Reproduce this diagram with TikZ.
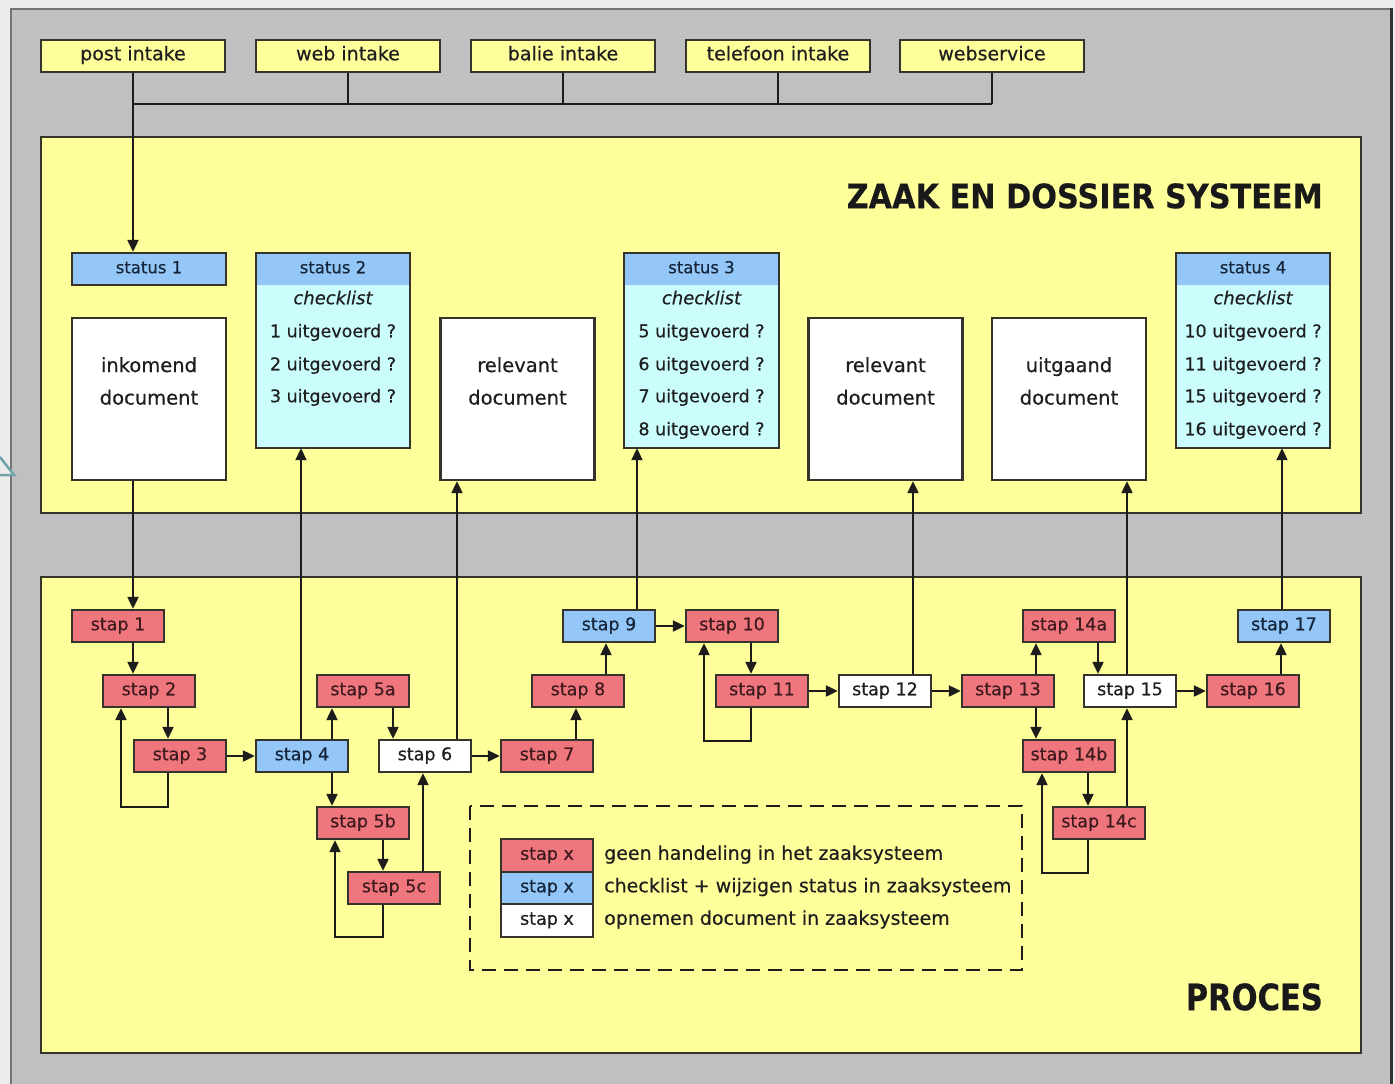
\documentclass[tikz,border=0pt]{standalone}
\usepackage{fontspec}
\setmainfont{DejaVu Sans}[FakeBold=0.4]
\usetikzlibrary{arrows.meta}

\definecolor{outerbg}{HTML}{ECECEC}
\definecolor{panelgray}{HTML}{C0C0C0}
\definecolor{zone}{HTML}{FEFE9A}
\definecolor{stapred}{HTML}{EF767C}
\definecolor{stapblue}{HTML}{94C7F7}
\definecolor{listcyan}{HTML}{CBFDFD}
\definecolor{edge}{HTML}{34342C}
\definecolor{wire}{HTML}{1C1C1C}
\definecolor{ink}{HTML}{1E1E1E}
\definecolor{inkred}{HTML}{3D1A1E}
\definecolor{inkblue}{HTML}{14243A}
\definecolor{tealmark}{HTML}{6FA3A8}

\begin{document}
\begin{tikzpicture}[x=1pt,y=-1pt,
  box/.style={draw=edge, line width=2.3pt, inner sep=0pt, text=ink,
    text height=12pt, text depth=3.5pt},
  intake/.style={box, fill=zone, minimum width=184pt, minimum height=32pt,
    font=\fontsize{19}{22}\selectfont},
  stapbox/.style={box, minimum width=92pt, minimum height=32pt,
    font=\fontsize{17.5}{20}\selectfont},
  rstap/.style={stapbox, fill=stapred, text=inkred},
  bstap/.style={stapbox, fill=stapblue, text=inkblue},
  wstap/.style={stapbox, fill=white},
  hdr/.style={inner sep=0pt, fill=stapblue, text=inkblue, minimum width=154pt,
    minimum height=32pt, text height=12pt, text depth=3.5pt,
    font=\fontsize{16.5}{20}\selectfont},
  listbody/.style={inner sep=0pt, fill=listcyan, minimum width=154pt},
  docbox/.style={box, fill=white, minimum width=154pt, minimum height=162pt},
  doctext/.style={inner sep=0pt, align=center, text=ink,
    font=\fontsize{19.5}{32.5}\selectfont},
  item/.style={inner sep=0pt, text=ink, text height=12pt, text depth=3.5pt,
    font=\fontsize{17.5}{20}\selectfont},
  legtext/.style={inner sep=0pt, anchor=west, text=ink, text height=12pt,
    text depth=3.5pt, font=\fontsize{19}{20}\selectfont},
  frame/.style={draw=edge, line width=2.3pt},
  conn/.style={draw=wire, line width=2pt},
  arr/.style={conn, -{Triangle[length=12pt,width=11pt]}},
]
\useasboundingbox (0,0) rectangle (1395,1084);

% backdrop and grey sheet
\fill[outerbg] (0,0) rectangle (1395,1084);
\fill[panelgray] (10,8) rectangle (1391,1090);
\draw[draw=black!55, line width=2pt] (11,1090) -- (11,9) -- (1391,9);
\draw[draw=black!80, line width=3pt] (1391,8) -- (1391,1090);
\draw[tealmark, line width=2.5pt, fill=outerbg] (0,457) -- (14,475) -- (0,475);

% the two zones
\filldraw[frame, fill=zone] (41,137) rectangle (1361,513);
\filldraw[frame, fill=zone] (41,577) rectangle (1361,1053);
\node[anchor=north east, inner sep=0pt, text=black!90] (zdstitle) at (1323,183)
  {\resizebox{476pt}{25pt}{\bfseries ZAAK EN DOSSIER SYSTEEM}};
\node[anchor=north east, inner sep=0pt, text=black!90] (procestitle) at (1323,983)
  {\resizebox{137pt}{27pt}{\bfseries PROCES}};

% intake channels
\node[intake] (post) at (133,56) {post intake};
\node[intake] (web)  at (348,56) {web intake};
\node[intake] (balie) at (563,56) {balie intake};
\node[intake] (tel)  at (778,56) {telefoon intake};
\node[intake] (wsvc) at (992,56) {webservice};
\coordinate (bus) at (0,104);
\draw[conn] (post.south |- bus) -- (wsvc.south |- bus);
\foreach \n in {web,balie,tel,wsvc} \draw[conn] (\n.south) -- (\n.south |- bus);

% statuses
\node[box, fill=stapblue, text=inkblue, minimum width=154pt, minimum height=32pt,
  font=\fontsize{16.5}{20}\selectfont] (st1) at (149,269) {status 1};
\draw[arr] (post.south) -- (post.south |- st1.north);

\foreach \id/\cx/\lbl/\a/\b/\c in {
    st2/333/status 2/1/2/3,
    st3/701.5/status 3/5/6/7,
    st4/1253/status 4/10/11/15} {
  \node[hdr] (\id h) at (\cx,269) {\lbl};
  \node[listbody, minimum height=163pt] (\id) at (\cx,366.5) {};
  \draw[frame] (\id h.north west) rectangle (\id.south east);
  \node[item] (\id c) at (\cx,300) {\itshape\fontsize{18}{20}\selectfont checklist};
  \node[item] (\id 1) at (\cx,333) {\a\ uitgevoerd ?};
  \node[item] (\id 2) at (\cx,366) {\b\ uitgevoerd ?};
  \node[item] (\id 3) at (\cx,398) {\c\ uitgevoerd ?};
}
\node[item] (st34) at (701.5,431) {8 uitgevoerd ?};
\node[item] (st44) at (1253,431) {16 uitgevoerd ?};

% documents
\node[docbox] (doc1) at (149,399) {};
\node[docbox] (doc2) at (517.5,399) {};
\node[docbox] (doc3) at (885.5,399) {};
\node[docbox] (doc4) at (1069,399) {};
\node[doctext] (doc1t) at ([yshift=18pt]doc1.center) {inkomend\\document};
\node[doctext] (doc2t) at ([yshift=18pt]doc2.center) {relevant\\document};
\node[doctext] (doc3t) at ([yshift=18pt]doc3.center) {relevant\\document};
\node[doctext] (doc4t) at ([yshift=18pt]doc4.center) {uitgaand\\document};

% process steps
\node[rstap] (s1)   at (118,626)  {stap 1};
\node[rstap] (s2)   at (149,691)  {stap 2};
\node[rstap] (s3)   at (180,756)  {stap 3};
\node[bstap] (s4)   at (302,756)  {stap 4};
\node[rstap] (s5a)  at (363,691)  {stap 5a};
\node[rstap] (s5b)  at (363,823)  {stap 5b};
\node[rstap] (s5c)  at (394,888)  {stap 5c};
\node[wstap] (s6)   at (425,756)  {stap 6};
\node[rstap] (s7)   at (547,756)  {stap 7};
\node[rstap] (s8)   at (578,691)  {stap 8};
\node[bstap] (s9)   at (609,626)  {stap 9};
\node[rstap] (s10)  at (732,626)  {stap 10};
\node[rstap] (s11)  at (762,691)  {stap 11};
\node[wstap] (s12)  at (885,691)  {stap 12};
\node[rstap] (s13)  at (1008,691) {stap 13};
\node[rstap] (s14a) at (1069,626) {stap 14a};
\node[rstap] (s14b) at (1069,756) {stap 14b};
\node[rstap] (s14c) at (1099,823) {stap 14c};
\node[wstap] (s15)  at (1130,691) {stap 15};
\node[rstap] (s16)  at (1253,691) {stap 16};
\node[bstap] (s17)  at (1284,626) {stap 17};

% flow
\draw[arr] ([xshift=-16pt]doc1.south) -- ([xshift=-16pt]doc1.south |- s1.north);
\draw[arr] ([xshift=15pt]s1.south) -- ([xshift=15pt]s1.south |- s2.north);
\draw[arr] ([xshift=19pt]s2.south) -- ([xshift=19pt]s2.south |- s3.north);
\draw[arr] ([xshift=-12pt]s3.south) -- ++(0,34) -| ([xshift=-28pt]s2.south);
\draw[arr] (s3.east) -- (s4.west);
\draw[arr] ([xshift=-1pt]s4.north) -- ([xshift=-1pt]s4.north |- st2.south);
\draw[arr] ([xshift=30pt]s4.north) -- ([xshift=30pt]s4.north |- s5a.south);
\draw[arr] ([xshift=30pt]s4.south) -- ([xshift=30pt]s4.south |- s5b.north);
\draw[arr] ([xshift=30pt]s5a.south) -- ([xshift=30pt]s5a.south |- s6.north);
\draw[arr] ([xshift=20pt]s5b.south) -- ([xshift=20pt]s5b.south |- s5c.north);
\draw[arr] ([xshift=-11pt]s5c.south) -- ++(0,32) -| ([xshift=-28pt]s5b.south);
\draw[arr] ([xshift=29pt]s5c.north) -- ([xshift=29pt]s5c.north |- s6.south);
\draw[arr] ([xshift=32pt]s6.north) -- ([xshift=32pt]s6.north |- doc2.south);
\draw[arr] (s6.east) -- (s7.west);
\draw[arr] ([xshift=29pt]s7.north) -- ([xshift=29pt]s7.north |- s8.south);
\draw[arr] ([xshift=28pt]s8.north) -- ([xshift=28pt]s8.north |- s9.south);
\draw[arr] ([xshift=28pt]s9.north) -- ([xshift=28pt]s9.north |- st3.south);
\draw[arr] (s9.east) -- (s10.west);
\draw[arr] ([xshift=19pt]s10.south) -- ([xshift=19pt]s10.south |- s11.north);
\draw[arr] ([xshift=-11pt]s11.south) -- ++(0,33) -| ([xshift=-28pt]s10.south);
\draw[arr] (s11.east) -- (s12.west);
\draw[arr] ([xshift=28pt]s12.north) -- ([xshift=28pt]s12.north |- doc3.south);
\draw[arr] (s12.east) -- (s13.west);
\draw[arr] ([xshift=28pt]s13.north) -- ([xshift=28pt]s13.north |- s14a.south);
\draw[arr] ([xshift=28pt]s13.south) -- ([xshift=28pt]s13.south |- s14b.north);
\draw[arr] ([xshift=29pt]s14a.south) -- ([xshift=29pt]s14a.south |- s15.north);
\draw[arr] ([xshift=19pt]s14b.south) -- ([xshift=19pt]s14b.south |- s14c.north);
\draw[arr] ([xshift=-11pt]s14c.south) -- ++(0,33) -| ([xshift=-27pt]s14b.south);
\draw[arr] ([xshift=28pt]s14c.north) -- ([xshift=28pt]s14c.north |- s15.south);
\draw[arr] ([xshift=-3pt]s15.north) -- ([xshift=-3pt]s15.north |- doc4.south);
\draw[arr] (s15.east) -- (s16.west);
\draw[arr] ([xshift=28pt]s16.north) -- ([xshift=28pt]s16.north |- s17.south);
\draw[arr] ([xshift=-2pt]s17.north) -- ([xshift=-2pt]s17.north |- st4.south);

% legend
\draw[draw=wire, line width=2.6pt, dash pattern=on 14pt off 8pt] (470,806) rectangle (1022,970);
\node[rstap, minimum height=32.5pt] (lg1) at (547,855.5) {stap x};
\node[bstap, minimum height=32.5pt] (lg2) at (547,888) {stap x};
\node[wstap, minimum height=32.5pt] (lg3) at (547,920.5) {stap x};
\node[legtext] (lg1t) at (604,855.5) {geen handeling in het zaaksysteem};
\node[legtext] (lg2t) at (604,888) {checklist + wijzigen status in zaaksysteem};
\node[legtext] (lg3t) at (604,920.5) {opnemen document in zaaksysteem};
\end{tikzpicture}
\end{document}
